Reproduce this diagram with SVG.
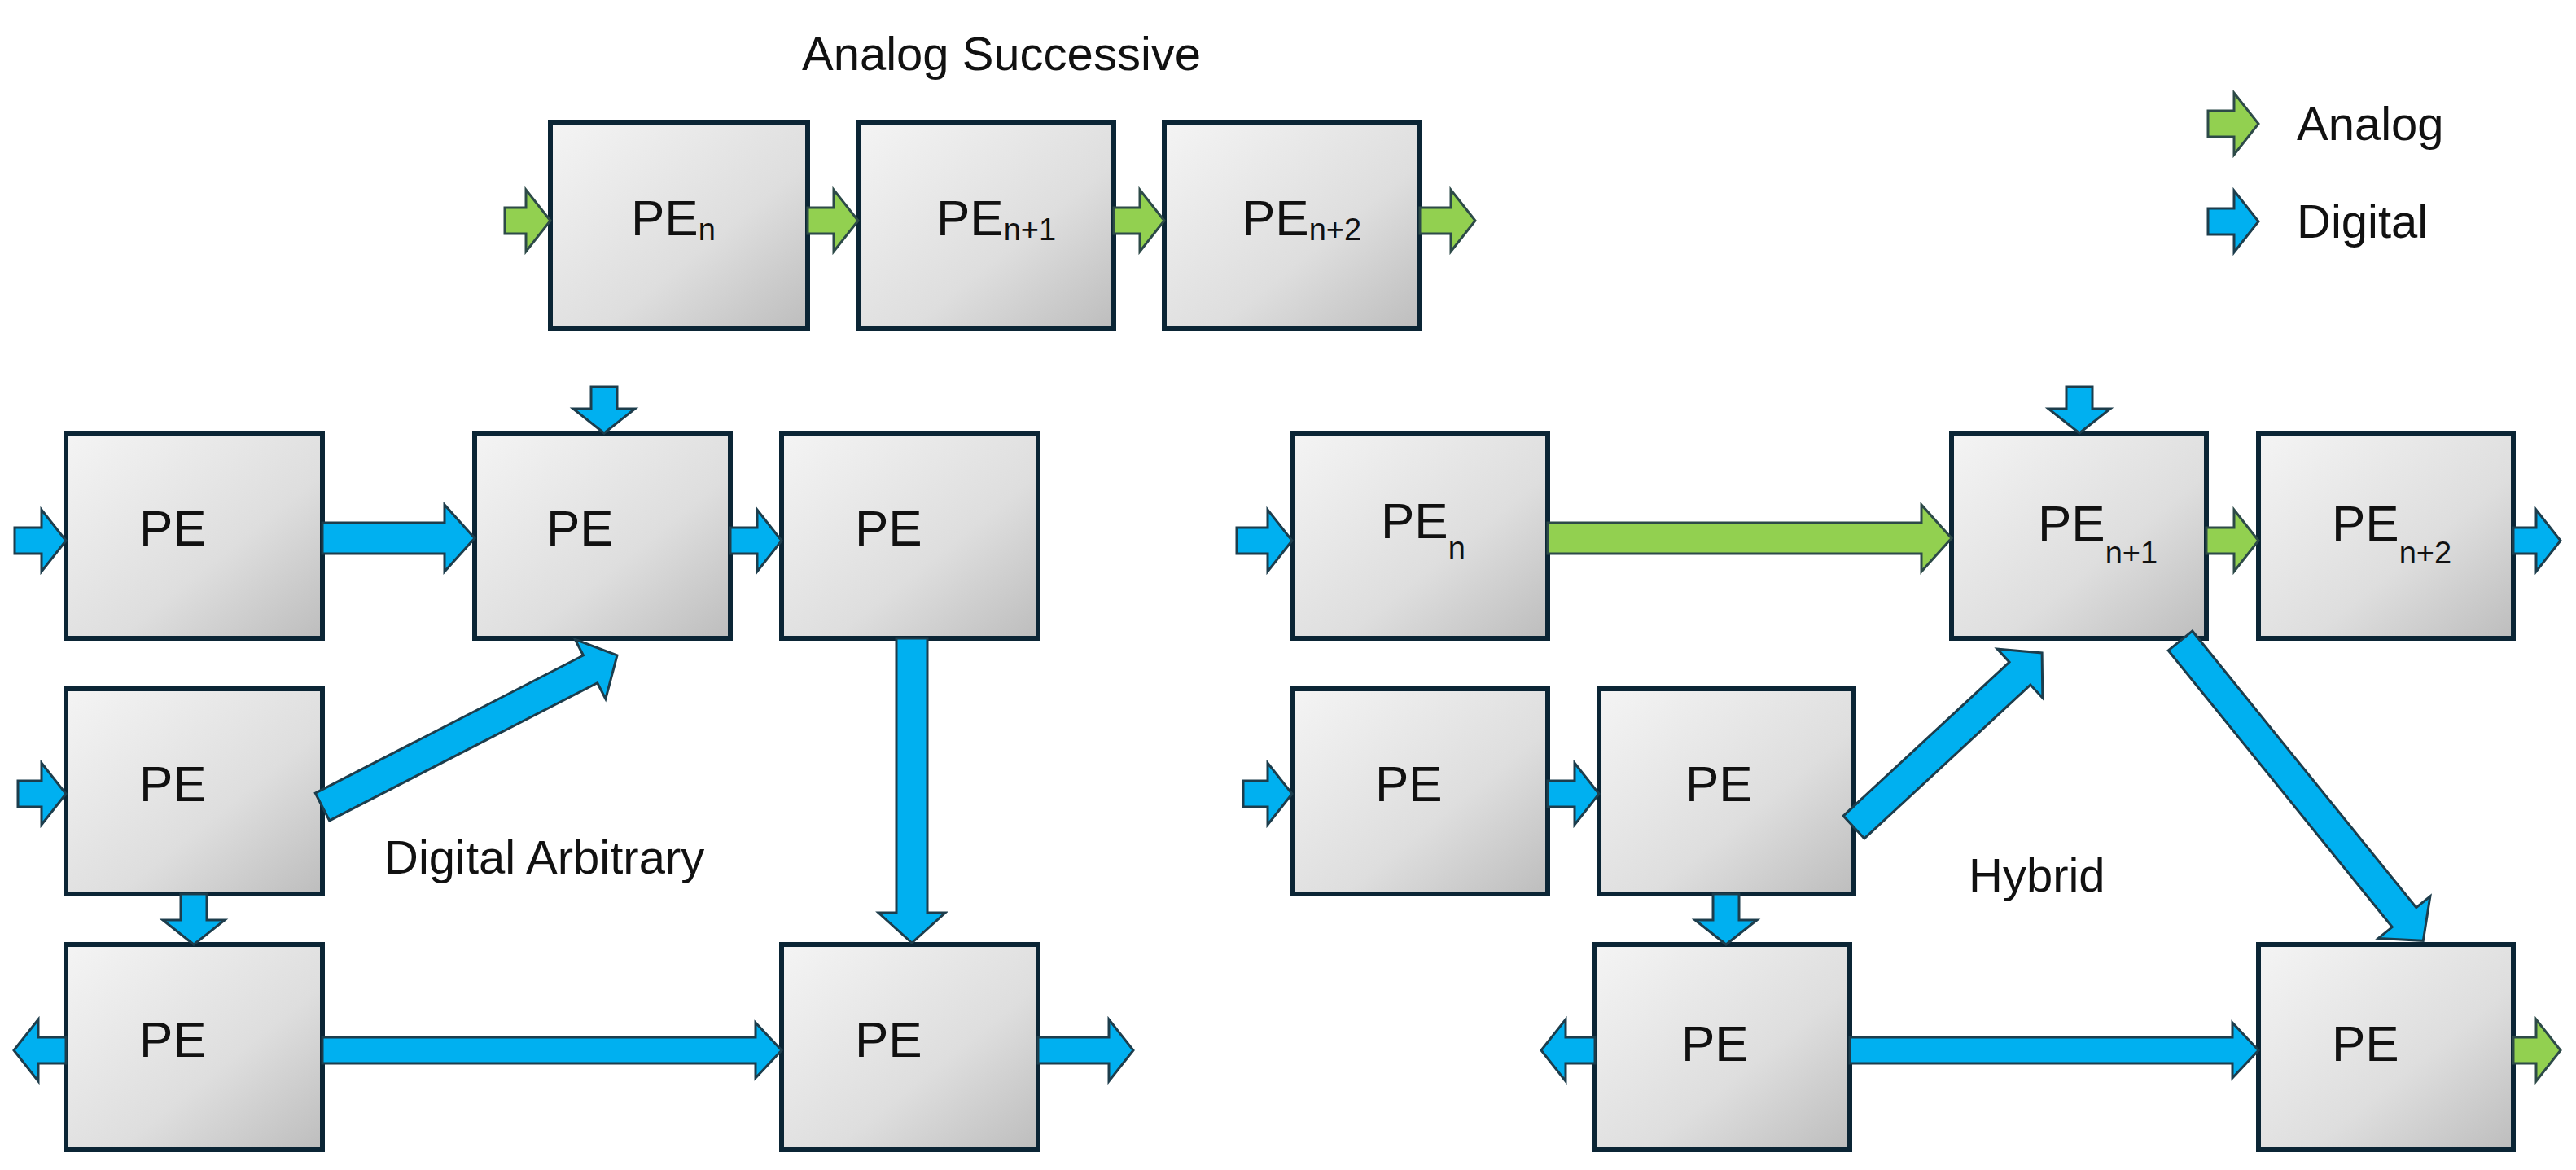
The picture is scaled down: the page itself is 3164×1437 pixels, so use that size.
<svg xmlns="http://www.w3.org/2000/svg" width="3164" height="1437" viewBox="0 0 3164 1437">
<defs>
<linearGradient id="g" x1="0" y1="0" x2="1" y2="1"><stop offset="0" stop-color="#f4f4f4"/><stop offset="0.6" stop-color="#dedede"/><stop offset="1" stop-color="#bdbdbd"/></linearGradient>
<style>
.box{fill:url(#g);stroke:#0b2535;stroke-width:6}
.t{font-family:"Liberation Sans",Arial,sans-serif;font-size:62px;fill:#111}
.s{font-size:38px}
.b{fill:#00b0f0;stroke:#1d3d4c;stroke-width:3}
.gr{fill:#92d050;stroke:#2d4a48;stroke-width:3}
.lbl{font-family:"Liberation Sans",Arial,sans-serif;font-size:58px;fill:#111}
</style>
</defs>
<g id="titles">
<text class="lbl" x="1230" y="86" text-anchor="middle">Analog Successive</text>
<text class="lbl" x="472" y="1073">Digital Arbitrary</text>
<text class="lbl" x="2418" y="1095">Hybrid</text>
<text class="lbl" x="2821" y="172">Analog</text>
<text class="lbl" x="2821" y="292">Digital</text>
</g>
<g id="n-as1"><rect class="box" x="676" y="150" width="316" height="254"/><text class="t" x="775" y="289">PE<tspan class="s" dy="6">n</tspan></text></g>
<g id="n-as2"><rect class="box" x="1054" y="150" width="314" height="254"/><text class="t" x="1150" y="289">PE<tspan class="s" dy="6">n+1</tspan></text></g>
<g id="n-as3"><rect class="box" x="1430" y="150" width="314" height="254"/><text class="t" x="1525" y="289">PE<tspan class="s" dy="6">n+2</tspan></text></g>
<g id="n-d1"><rect class="box" x="81" y="532" width="315" height="252"/><text class="t" x="171" y="670">PE</text></g>
<g id="n-d2"><rect class="box" x="583" y="532" width="314" height="252"/><text class="t" x="671" y="670">PE</text></g>
<g id="n-d3"><rect class="box" x="960" y="532" width="315" height="252"/><text class="t" x="1050" y="670">PE</text></g>
<g id="n-d4"><rect class="box" x="81" y="846" width="315" height="252"/><text class="t" x="171" y="984">PE</text></g>
<g id="n-d5"><rect class="box" x="81" y="1160" width="315" height="252"/><text class="t" x="171" y="1298">PE</text></g>
<g id="n-d6"><rect class="box" x="960" y="1160" width="315" height="252"/><text class="t" x="1050" y="1298">PE</text></g>
<g id="n-h1"><rect class="box" x="1587" y="532" width="314" height="252"/><text class="t" x="1696" y="661">PE<tspan class="s" dy="25">n</tspan></text></g>
<g id="n-h2"><rect class="box" x="2397" y="532" width="313" height="252"/><text class="t" x="2503" y="664">PE<tspan class="s" dy="28">n+1</tspan></text></g>
<g id="n-h3"><rect class="box" x="2774" y="532" width="313" height="252"/><text class="t" x="2864" y="664">PE<tspan class="s" dy="28">n+2</tspan></text></g>
<g id="n-h4"><rect class="box" x="1587" y="846" width="314" height="252"/><text class="t" x="1689" y="984">PE</text></g>
<g id="n-h5"><rect class="box" x="1964" y="846" width="313" height="252"/><text class="t" x="2070" y="984">PE</text></g>
<g id="n-h6"><rect class="box" x="1959" y="1160" width="313" height="252"/><text class="t" x="2065" y="1303">PE</text></g>
<g id="n-h7"><rect class="box" x="2774" y="1160" width="313" height="252"/><text class="t" x="2864" y="1303">PE</text></g>
<g id="connectors">
<polygon class="gr" transform="translate(620,271)" points="0,-16 26,-16 26,-38 56,0 26,38 26,16 0,16"/>
<polygon class="gr" transform="translate(992,271)" points="0,-16 32,-16 32,-38 62,0 32,38 32,16 0,16"/>
<polygon class="gr" transform="translate(1368,271)" points="0,-16 32,-16 32,-38 62,0 32,38 32,16 0,16"/>
<polygon class="gr" transform="translate(1744,271)" points="0,-16 38,-16 38,-38 68,0 38,38 38,16 0,16"/>
<polygon class="gr" transform="translate(2712,152)" points="0,-16 32,-16 32,-38 62,0 32,38 32,16 0,16"/>
<polygon class="b" transform="translate(2712,272)" points="0,-16 32,-16 32,-38 62,0 32,38 32,16 0,16"/>
<polygon class="b" transform="translate(18,664)" points="0,-16 33,-16 33,-38 63,0 33,38 33,16 0,16"/>
<polygon class="b" transform="translate(396,661)" points="0,-19 150,-19 150,-41 187,0 150,41 150,19 0,19"/>
<polygon class="b" transform="translate(897,664)" points="0,-16 33,-16 33,-38 63,0 33,38 33,16 0,16"/>
<polygon class="b" transform="translate(742,475) rotate(90)" points="0,-16 27,-16 27,-38 57,0 27,38 27,16 0,16"/>
<polygon class="b" transform="translate(396,991) rotate(-27.2)" points="0,-19 370,-19 370,-41 407,0 370,41 370,19 0,19"/>
<polygon class="b" transform="translate(1120,784) rotate(90)" points="0,-19 337,-19 337,-41 374,0 337,41 337,19 0,19"/>
<polygon class="b" transform="translate(22,975)" points="0,-16 29,-16 29,-38 59,0 29,38 29,16 0,16"/>
<polygon class="b" transform="translate(238,1098) rotate(90)" points="0,-16 32,-16 32,-38 62,0 32,38 32,16 0,16"/>
<polygon class="b" transform="translate(81,1290) rotate(180)" points="0,-16 34,-16 34,-38 64,0 34,38 34,16 0,16"/>
<polygon class="b" transform="translate(396,1290)" points="0,-16 532,-16 532,-34 564,0 532,34 532,16 0,16"/>
<polygon class="b" transform="translate(1275,1290)" points="0,-16 87,-16 87,-38 117,0 87,38 87,16 0,16"/>
<polygon class="b" transform="translate(1519,664)" points="0,-16 38,-16 38,-38 68,0 38,38 38,16 0,16"/>
<polygon class="gr" transform="translate(1901,661)" points="0,-19 459,-19 459,-41 496,0 459,41 459,19 0,19"/>
<polygon class="b" transform="translate(2554,475) rotate(90)" points="0,-16 27,-16 27,-38 57,0 27,38 27,16 0,16"/>
<polygon class="gr" transform="translate(2710,664)" points="0,-16 34,-16 34,-38 64,0 34,38 34,16 0,16"/>
<polygon class="b" transform="translate(3087,664)" points="0,-16 28,-16 28,-38 58,0 28,38 28,16 0,16"/>
<polygon class="b" transform="translate(1527,975)" points="0,-16 30,-16 30,-38 60,0 30,38 30,16 0,16"/>
<polygon class="b" transform="translate(1901,975)" points="0,-16 33,-16 33,-38 63,0 33,38 33,16 0,16"/>
<polygon class="b" transform="translate(2277,1016) rotate(-42.8)" points="0,-19 278,-19 278,-41 315,0 278,41 278,19 0,19"/>
<polygon class="b" transform="translate(2678,787) rotate(51)" points="0,-19 437,-19 437,-41 474,0 437,41 437,19 0,19"/>
<polygon class="b" transform="translate(2120,1098) rotate(90)" points="0,-16 32,-16 32,-38 62,0 32,38 32,16 0,16"/>
<polygon class="b" transform="translate(1959,1290) rotate(180)" points="0,-16 36,-16 36,-38 66,0 36,38 36,16 0,16"/>
<polygon class="b" transform="translate(2272,1290)" points="0,-16 470,-16 470,-34 502,0 470,34 470,16 0,16"/>
<polygon class="gr" transform="translate(3087,1290)" points="0,-16 28,-16 28,-38 58,0 28,38 28,16 0,16"/>
</g>
</svg>
